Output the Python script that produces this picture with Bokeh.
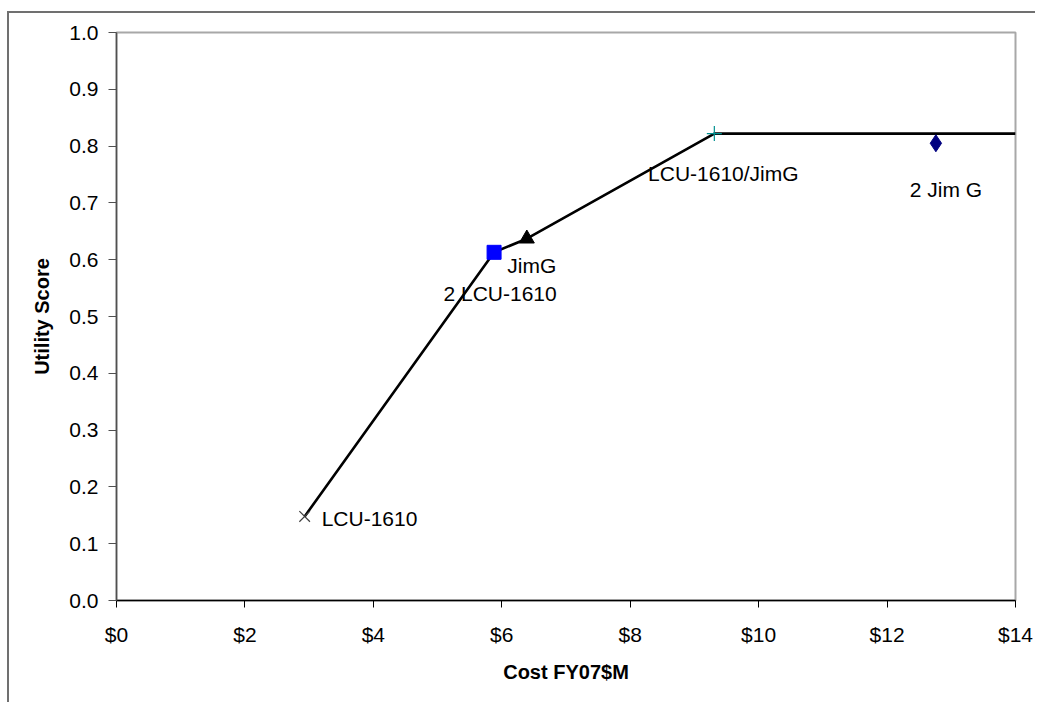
from bokeh.plotting import figure
from bokeh.models import ColumnDataSource, FixedTicker, PrintfTickFormatter, Range1d
from bokeh.core.properties import value
from bokeh.embed import file_html
from bokeh.resources import INLINE

# ---- data ----
names = ["LCU-1610", "2 LCU-1610", "JimG", "LCU-1610/JimG", "2 Jim G"]
cost = [2.93, 5.88, 6.39, 9.31, 12.76]
utility = [0.148, 0.613, 0.637, 0.822, 0.805]

frontier_cost = [2.93, 5.88, 6.39, 9.31, 14.0]
frontier_utility = [0.148, 0.613, 0.637, 0.822, 0.822]

x_ticks = [0, 2, 4, 6, 8, 10, 12, 14]
y_ticks = [0.0, 0.1, 0.2, 0.3, 0.4, 0.5, 0.6, 0.7, 0.8, 0.9, 1.0]

FONT = "Liberation Sans"

# canvas starts at (9, 13) because of the border/margin styles below
p = figure(width=1028, height=691, output_backend="svg", toolbar_location=None,
           x_range=Range1d(0, 14), y_range=Range1d(0, 1.0),
           min_border_left=107, min_border_right=22, min_border_top=19, min_border_bottom=104)
p.styles = {"margin-left": "7px", "margin-top": "11px",
            "border-left": "2px solid #707070", "border-top": "2px solid #707070"}
p.background_fill_color = "white"
p.border_fill_color = "white"
p.outline_line_color = "#a8a8a8"
p.outline_line_width = 2
p.xgrid.visible = False
p.ygrid.visible = False

# frontier line
p.line(frontier_cost, frontier_utility, line_color="black", line_width=2.6)

# markers
p.scatter([cost[0]], [utility[0]], marker="x", size=15, line_color="#404040", line_width=1.2)
p.scatter([cost[1]], [utility[1]], marker="square", size=14, fill_color="#0000ff", line_color="#0000ff")
p.scatter([cost[2]], [utility[2]], marker="triangle", size=15, fill_color="black", line_color="black")
p.scatter([cost[3]], [utility[3]], marker="cross", size=15, line_color="#009090", line_width=1.2)
p.scatter([cost[4]], [utility[4]], marker="diamond", size=17, fill_color="#000080", line_color="#000080")

# labels
x_off = [17, 6, 5, 9, 10]
y_off = [2, 41, 27, 40, 46]
aligns = ["left", "center", "center", "center", "center"]
src = ColumnDataSource(dict(x=cost, y=utility, t=names, xo=x_off, yo=y_off, a=aligns))
p.text(x="x", y="y", text="t", x_offset="xo", y_offset="yo", text_align="a", source=src,
       text_baseline="middle", text_font=value(FONT), text_font_size="21px", text_color="black")

# axes
p.xaxis.ticker = FixedTicker(ticks=x_ticks)
p.xaxis.formatter = PrintfTickFormatter(format="$%d")
p.yaxis.ticker = FixedTicker(ticks=y_ticks)
p.yaxis.formatter = PrintfTickFormatter(format="%.1f")

for ax in (p.xaxis[0], p.yaxis[0]):
    ax.minor_tick_line_color = None
    ax.major_tick_in = 0
    ax.major_label_text_font = FONT
    ax.major_label_text_font_size = "21px"
    ax.major_label_text_color = "black"
    ax.axis_label_text_font = FONT
    ax.axis_label_text_font_size = "20px"
    ax.axis_label_text_font_style = "bold"
    ax.axis_label_text_color = "black"

p.xaxis.axis_label = "Cost FY07$M"
p.xaxis.axis_line_color = "black"
p.xaxis.axis_line_width = 1.5
p.xaxis.major_tick_line_color = "black"
p.xaxis.major_tick_out = 7
p.xaxis.major_label_standoff = 15
p.xaxis.axis_label_standoff = 12

p.yaxis.axis_label = "Utility Score"
p.yaxis.axis_line_color = "#505050"
p.yaxis.axis_line_width = 1.5
p.yaxis.major_tick_line_color = "#505050"
p.yaxis.major_tick_out = 8
p.yaxis.major_label_standoff = 10
p.yaxis.axis_label_standoff = 13

open("out.html", "w").write(file_html(p, INLINE))
